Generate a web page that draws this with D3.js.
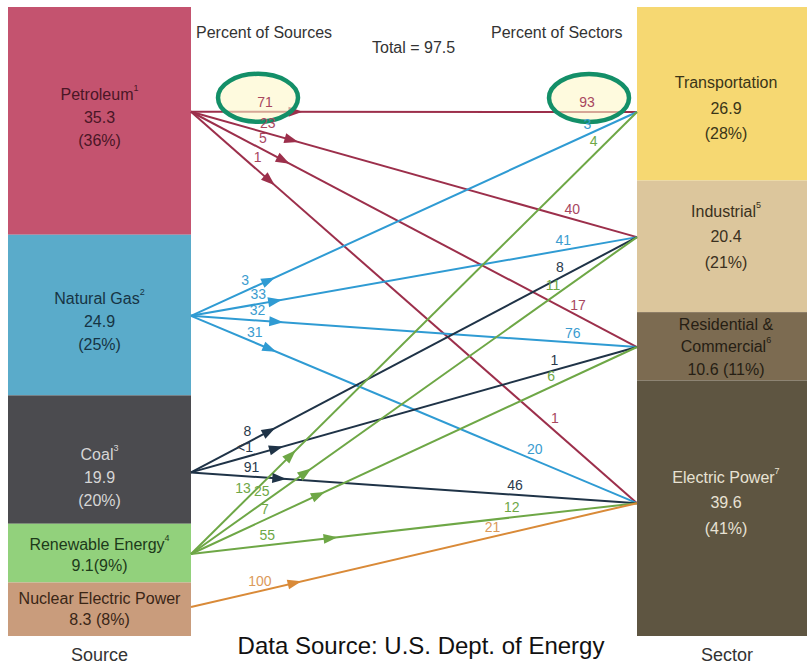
<!DOCTYPE html>
<html lang="en">
<head>
<meta charset="UTF-8">
<title>Energy Flow: Sources to Sectors</title>
<script src="https://cdn.jsdelivr.net/npm/d3@7"></script>
<style>
  body { margin: 0; background: #fff; font-family: "Liberation Sans", Arial, sans-serif; }
  .node-label { font-size: 16px; text-anchor: middle; dominant-baseline: central; }
  .flow { fill: none; stroke-width: 2; }
  .pct { font-size: 14px; text-anchor: middle; dominant-baseline: central; }
  .header { font-size: 16px; fill: #333; dominant-baseline: central; }
</style>
</head>
<body>
<div id="chart"></div>
<script>
  // sources (left) and sectors (right), quadrillion Btu
  const sources = ["Petroleum", "Natural Gas", "Coal", "Renewable Energy", "Nuclear Electric Power"];
  const sourceNotes = ["1", "2", "3", "4", ""];
  const sourceValues = [35.3, 24.9, 19.9, 9.1, 8.3];
  const sourceShares = ["36%", "25%", "20%", "9%", "8%"];

  const sectors = ["Transportation", "Industrial", "Residential & Commercial", "Electric Power"];
  const sectorNotes = ["", "5", "6", "7"];
  const sectorValues = [26.9, 20.4, 10.6, 39.6];
  const sectorShares = ["28%", "21%", "11%", "41%"];

  const total = 97.5;

  // flows: source index -> sector index, percent of source / percent of sector
  const flowFrom = [0, 0, 0, 0, 1, 1, 1, 1, 2, 2, 2, 3, 3, 3, 3, 4];
  const flowTo   = [0, 1, 2, 3, 0, 1, 2, 3, 1, 2, 3, 0, 1, 2, 3, 3];
  const pctOfSource = ["71", "23", "5", "1", "3", "33", "32", "31", "8", "<1", "91", "13", "25", "7", "55", "100"];
  const pctOfSector = ["93", "40", "17", "1", "3", "41", "76", "20", "8", "1", "46", "4", "11", "6", "12", "21"];

  // ---- layout / styles ----
  const sourceColors = ["#c4536f", "#5aabca", "#4b4b4f", "#92d17c", "#c99c7c"];
  const sourceText   = ["#4a1626", "#163444", "#d6d6d6", "#1d3a1a", "#3a2616"];
  const lineColors   = ["#9c2f4b", "#2f9bd3", "#1f3347", "#6ea746", "#d98a38"];
  const labelColors  = ["#a8475f", "#3b9ccf", "#2a3a4c", "#6ea746", "#dc9a5a"];
  const sectorColors = ["#f6d872", "#dcc69c", "#7c6b51", "#5e5541"];
  const sectorText   = ["#3a3518", "#3a3020", "#261e14", "#e8e2d4"];
  const srcAnchor = [0.46, 0.505, 0.60, 0.515, 0.46];
  const secAnchor = [0.605, 0.43, 0.51, 0.48];
  const srcArrowDist = [104, 85, 88, 140, 106];
  const srcLabelDist = [74, 77, 76, 80, 64, 70, 66, 65, 69, 59, 60, 83, 94, 86, 78, 73];
  const secLabelDist = [50, 70, 72, 118, 50, 73, 65, 115, 82, 83, 123, 51, 96, 90, 125, 146];
  const compactSource = [false, false, false, true, true];
  const compactSep = ["", "", "", "", " "];

  const svgWidth = 807, svgHeight = 667;
  const srcX = [8, 191], secX = [637, 807];

  const svg = d3.select("#chart").append("svg")
    .attr("width", svgWidth)
    .attr("height", svgHeight);

  const y = d3.scaleLinear().domain([0, total]).range([7, 636]);

  function stack(values, anchors) {
    const cum = [0, ...Array.from(d3.cumsum(values))];
    return values.map((v, i) => {
      const y0 = y(cum[i]), y1 = y(cum[i + 1]);
      return { y0, y1, anchor: y0 + anchors[i] * (y1 - y0) };
    });
  }
  const srcNodes = stack(sourceValues, srcAnchor);
  const secNodes = stack(sectorValues, secAnchor);

  // ---- bars ----
  svg.append("g").selectAll("rect")
    .data(srcNodes)
    .join("rect")
    .attr("x", srcX[0]).attr("width", srcX[1] - srcX[0])
    .attr("y", d => d.y0).attr("height", d => d.y1 - d.y0)
    .attr("fill", (d, i) => sourceColors[i]);

  svg.append("g").selectAll("rect")
    .data(secNodes)
    .join("rect")
    .attr("x", secX[0]).attr("width", secX[1] - secX[0])
    .attr("y", d => d.y0).attr("height", d => d.y1 - d.y0)
    .attr("fill", (d, i) => sectorColors[i]);

  function nodeText(cx, cy, lines, note, noteLine, color, lh) {
    const g = svg.append("g").attr("fill", color);
    const top = cy - (lines.length - 1) * lh / 2;
    lines.forEach((s, k) => {
      const t = g.append("text").attr("class", "node-label")
        .attr("x", cx).attr("y", top + k * lh);
      t.append("tspan").text(s);
      if (k === noteLine && note) {
        t.append("tspan").attr("font-size", 9).attr("dy", -6).text(note);
      }
    });
  }

  sources.forEach((name, i) => {
    const n = srcNodes[i];
    const lines = compactSource[i]
      ? [name, `${sourceValues[i]}${compactSep[i]}(${sourceShares[i]})`]
      : [name, `${sourceValues[i]}`, `(${sourceShares[i]})`];
    nodeText((srcX[0] + srcX[1]) / 2, n.anchor + (compactSource[i] ? 1 : 5), lines,
      sourceNotes[i], 0, sourceText[i], compactSource[i] ? 21 : 23);
  });

  sectors.forEach((name, i) => {
    const n = secNodes[i];
    const nameLines = name.includes("& ") ? name.split(/(?<=&) /) : [name];
    const lines = nameLines.length > 1
      ? [...nameLines, `${sectorValues[i]} (${sectorShares[i]})`]
      : [...nameLines, `${sectorValues[i]}`, `(${sectorShares[i]})`];
    nodeText((secX[0] + secX[1]) / 2 + 4, n.anchor - (i === 0 ? 4 : 1), lines,
      sectorNotes[i], nameLines.length - 1, sectorText[i], nameLines.length > 1 ? 22.5 : 25.5);
  });

  // ---- flows ----
  const flows = flowFrom.map((s, i) => {
    const p0 = [srcX[1], srcNodes[s].anchor];
    const p1 = [secX[0], secNodes[flowTo[i]].anchor];
    const len = Math.hypot(p1[0] - p0[0], p1[1] - p0[1]);
    const dir = [(p1[0] - p0[0]) / len, (p1[1] - p0[1]) / len];
    const nrm = [dir[1], -dir[0]]; // normal pointing upward
    return { i, s, p0, p1, dir, nrm };
  });

  const line = d3.line();

  svg.append("g").selectAll("path")
    .data(flows)
    .join("path")
    .attr("class", "flow")
    .attr("d", d => line([d.p0, d.p1]))
    .attr("stroke", d => lineColors[d.s]);

  // arrowheads
  svg.append("g").selectAll("path")
    .data(flows)
    .join("path")
    .attr("d", "M-6.5,-5L7.5,0L-6.5,5Z")
    .attr("fill", d => lineColors[d.s])
    .attr("transform", d => {
      const t = srcArrowDist[d.s];
      const ang = Math.atan2(d.dir[1], d.dir[0]) * 180 / Math.PI;
      return `translate(${d.p0[0] + d.dir[0] * t},${d.p0[1] + d.dir[1] * t}) rotate(${ang})`;
    });

  function srcLabelPos(d) {
    const t = srcLabelDist[d.i];
    return [d.p0[0] + d.dir[0] * t + d.nrm[0] * 10, d.p0[1] + d.dir[1] * t + d.nrm[1] * 10];
  }
  function secLabelPos(d) {
    const t = secLabelDist[d.i];
    return [d.p1[0] - d.dir[0] * t + d.nrm[0] * 10, d.p1[1] - d.dir[1] * t + d.nrm[1] * 10];
  }

  // highlight ellipses around the petroleum -> transportation numbers
  const hi = flows[0];
  [srcLabelPos(hi), secLabelPos(hi)].forEach((p, k) => {
    svg.append("ellipse")
      .attr("cx", p[0] - (k ? -2 : 7)).attr("cy", p[1] - 4)
      .attr("rx", 40).attr("ry", 24)
      .attr("fill", "#fdf6c8").attr("fill-opacity", 0.6)
      .attr("stroke", "#138f68").attr("stroke-width", 4.5);
  });

  svg.append("g").selectAll("text")
    .data(flows)
    .join("text")
    .attr("class", "pct")
    .attr("x", d => srcLabelPos(d)[0])
    .attr("y", d => srcLabelPos(d)[1])
    .attr("fill", d => labelColors[d.s])
    .text(d => pctOfSource[d.i]);

  svg.append("g").selectAll("text")
    .data(flows)
    .join("text")
    .attr("class", "pct")
    .attr("x", d => secLabelPos(d)[0])
    .attr("y", d => secLabelPos(d)[1])
    .attr("fill", d => labelColors[d.s])
    .text(d => pctOfSector[d.i]);

  // ---- headers and footers ----
  svg.append("text").attr("class", "header").attr("x", 196).attr("y", 32)
    .attr("font-size", 17).text("Percent of Sources");
  svg.append("text").attr("class", "header").attr("x", 372).attr("y", 47).text(`Total = ${total}`);
  svg.append("text").attr("class", "header").attr("x", 491).attr("y", 32)
    .attr("font-size", 17).text("Percent of Sectors");

  svg.append("text")
    .attr("x", 421).attr("y", 645)
    .attr("text-anchor", "middle").attr("dominant-baseline", "central")
    .attr("font-size", 24).attr("fill", "#111")
    .text("Data Source: U.S. Dept. of Energy");

  svg.append("text")
    .attr("x", (srcX[0] + srcX[1]) / 2).attr("y", 655)
    .attr("text-anchor", "middle").attr("dominant-baseline", "central")
    .attr("font-size", 18).attr("fill", "#333")
    .text("Source");

  svg.append("text")
    .attr("x", (secX[0] + secX[1]) / 2 + 5).attr("y", 655)
    .attr("text-anchor", "middle").attr("dominant-baseline", "central")
    .attr("font-size", 18).attr("fill", "#333")
    .text("Sector");
</script>
</body>
</html>
